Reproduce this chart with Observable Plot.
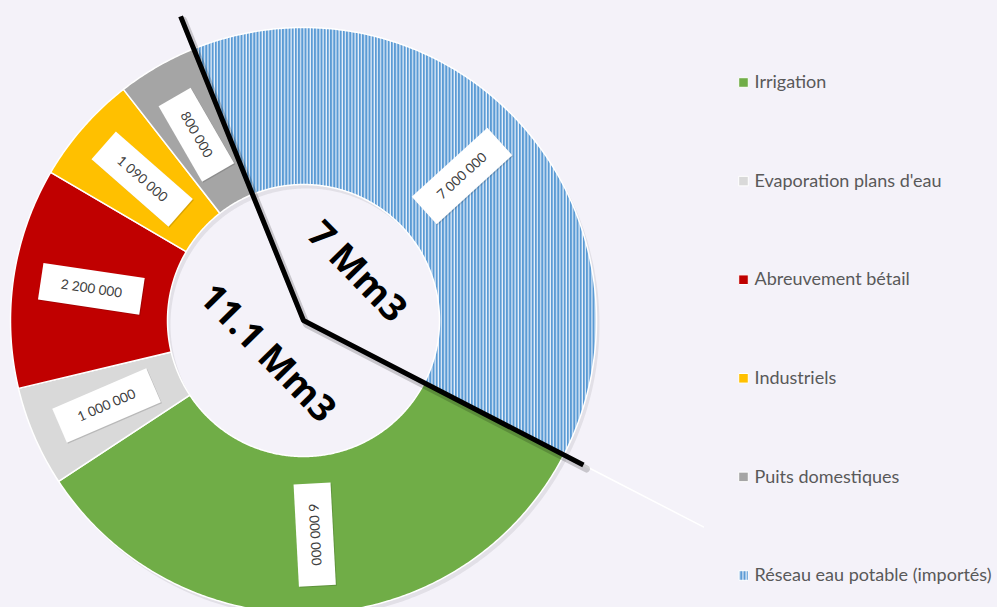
<!DOCTYPE html>
<html><head><meta charset="utf-8">
<script src="https://cdn.jsdelivr.net/npm/d3@7"></script>
<script src="https://cdn.jsdelivr.net/npm/@observablehq/plot@0.6"></script>
<style>
html,body{margin:0;padding:0;background:#F4F2F9;overflow:hidden;}
#chart{width:997px;height:607px;overflow:hidden;}
</style></head><body><div id="chart"></div>
<script>
// ---- data ----
const categories = ["Irrigation", "Evaporation plans d'eau", "Abreuvement bétail", "Industriels", "Puits domestiques", "Réseau eau potable (importés)"];
const values = [6000000, 1000000, 2200000, 1090000, 800000, 7000000];
const valueLabels = ["6 000 000", "1 000 000", "2 200 000", "1 090 000", "800 000", "7 000 000"];
const colors = ["#70AD47", "#D9D9D9", "#C00000", "#FFC000", "#A5A5A5", "url(#stripes)"];
const importedCategory = "Réseau eau potable (importés)";

// ---- layout ----
const W = 997, H = 607;
const cx = 303, cy = 320, rOuter = 293, rInner = 136;
const firstSliceDeg = 117.3;
const rad = d => d * Math.PI / 180, deg = r => r * 180 / Math.PI;
const px = (r, a) => cx + r * Math.sin(a);
const py = (r, a) => cy - r * Math.cos(a);

const rows = categories.map((name, i) => ({name, value: values[i], label: valueLabels[i], color: colors[i]}));
const arcs = d3.pie().sort(null).value(d => d.value)
  .startAngle(rad(firstSliceDeg)).endAngle(rad(firstSliceDeg) + 2 * Math.PI)(rows);

// slice polygons
const slicePts = [];
for (const a of arcs) {
  const n = Math.max(8, Math.ceil(deg(a.endAngle - a.startAngle) * 2));
  for (let k = 0; k <= n; k++) {
    const t = a.startAngle + (a.endAngle - a.startAngle) * k / n;
    slicePts.push({name: a.data.name, x: px(rOuter, t), y: py(rOuter, t)});
  }
  for (let k = n; k >= 0; k--) {
    const t = a.startAngle + (a.endAngle - a.startAngle) * k / n;
    slicePts.push({name: a.data.name, x: px(rInner, t), y: py(rInner, t)});
  }
}

// value labels (radial orientation)
const rLabel = (rOuter + rInner) / 2;
const labels = arcs.map(a => {
  const m = (a.startAngle + a.endAngle) / 2;
  let rot = deg(m) - 90;
  rot = ((rot % 360) + 360) % 360;
  if (rot > 90 && rot <= 270) rot -= 180;
  if (rot > 270) rot -= 360;
  return {text: a.data.label, x: px(rLabel, m), y: py(rLabel, m), rotate: rot,
          w: 34 + 7.6 * a.data.label.length, h: 37};
});
const boxPts = [];
labels.forEach((l, i) => {
  const t = rad(l.rotate), c = Math.cos(t), s = Math.sin(t);
  [[-1, -1], [1, -1], [1, 1], [-1, 1]].forEach(([u, v]) => {
    const dx = u * l.w / 2, dy = v * l.h / 2;
    boxPts.push({id: i, x: l.x + dx * c - dy * s, y: l.y + dx * s + dy * c});
  });
});

// group totals and boundary line
const imp = arcs.find(a => a.data.name === importedCategory);
const impTotal = imp.data.value;
const localTotal = d3.sum(values) - impTotal;
const fmt = v => (+(v / 1e6).toFixed(1)).toString() + " Mm3";
const impMid = (imp.startAngle + imp.endAngle) / 2;
const totals = [
  {text: fmt(impTotal), x: px(72, impMid), y: py(72, impMid), rotate: deg(impMid) - 2},
  {text: fmt(localTotal), x: px(49, impMid + Math.PI), y: py(49, impMid + Math.PI), rotate: deg(impMid) - 2}
];
const boundary = [
  {x: px(328, imp.startAngle), y: py(328, imp.startAngle)},
  {x: cx, y: cy},
  {x: px(315, imp.endAngle), y: py(315, imp.endAngle)}
];
const leader = [
  {x: px(315, imp.endAngle), y: py(315, imp.endAngle)},
  {x: px(450, imp.endAngle), y: py(450, imp.endAngle)}
];

// legend
const legendX = 743, legendY0 = 82, legendStep = 98.6;
const legend = categories.map((name, i) => ({name, x: legendX, y: legendY0 + i * legendStep}));

const defsMark = () => {
  const defs = d3.create("svg:defs");
  const p = defs.append("pattern").attr("id", "stripes").attr("patternUnits", "userSpaceOnUse")
    .attr("width", 3.2).attr("height", 10);
  p.append("rect").attr("width", 3.2).attr("height", 10).attr("fill", "#E6EFF9");
  p.append("rect").attr("width", 2.0).attr("height", 10).attr("fill", "#5B9BD5");
  return defs.node();
};

const chart = Plot.plot({
  width: W, height: H, margin: 0,
  x: {domain: [0, W], range: [0, W], axis: null},
  y: {domain: [0, H], range: [0, H], axis: null},
  color: {domain: categories, range: colors},
  style: {background: "#F4F2F9", fontFamily: "Lato", overflow: "hidden"},
  marks: [
    defsMark,
    Plot.line(slicePts, {x: "x", y: "y", z: "name", fill: "rgba(0,0,0,0.07)", stroke: "none", curve: "linear-closed", dx: 3, dy: 4}),
    Plot.line(slicePts, {x: "x", y: "y", z: "name", fill: "name", stroke: "white", strokeWidth: 1.5, curve: "linear-closed"}),
    Plot.line(boxPts, {x: "x", y: "y", z: "id", fill: "rgba(0,0,0,0.15)", stroke: "none", curve: "linear-closed", dx: 1, dy: 1}),
    Plot.line(boxPts, {x: "x", y: "y", z: "id", fill: "white", stroke: "none", curve: "linear-closed"}),
    Plot.text(labels, {x: "x", y: "y", text: "text", rotate: "rotate", fontSize: 13.5, fill: "#404040"}),
    Plot.line(leader, {x: "x", y: "y", stroke: "white", strokeWidth: 1.5}),
    Plot.line(boundary, {x: "x", y: "y", stroke: "rgba(0,0,0,0.18)", strokeWidth: 7, strokeLinejoin: "miter", dx: 3, dy: 4}),
    Plot.line(boundary, {x: "x", y: "y", stroke: "black", strokeWidth: 5, strokeLinejoin: "miter", strokeLinecap: "butt"}),
    Plot.text(totals, {x: "x", y: "y", text: "text", rotate: "rotate", fontSize: 37, fontWeight: "bold", fontFamily: "Open Sans", fill: "black"}),
    Plot.dot(legend, {x: "x", y: "y", symbol: "square", r: 5.4, fill: "name", stroke: "white", strokeWidth: 1}),
    Plot.text(legend, {x: d => d.x + 11, y: "y", text: "name", textAnchor: "start", fontSize: 18, fill: "#595959"})
  ]
});
document.getElementById("chart").appendChild(chart);
</script>
</body></html>
